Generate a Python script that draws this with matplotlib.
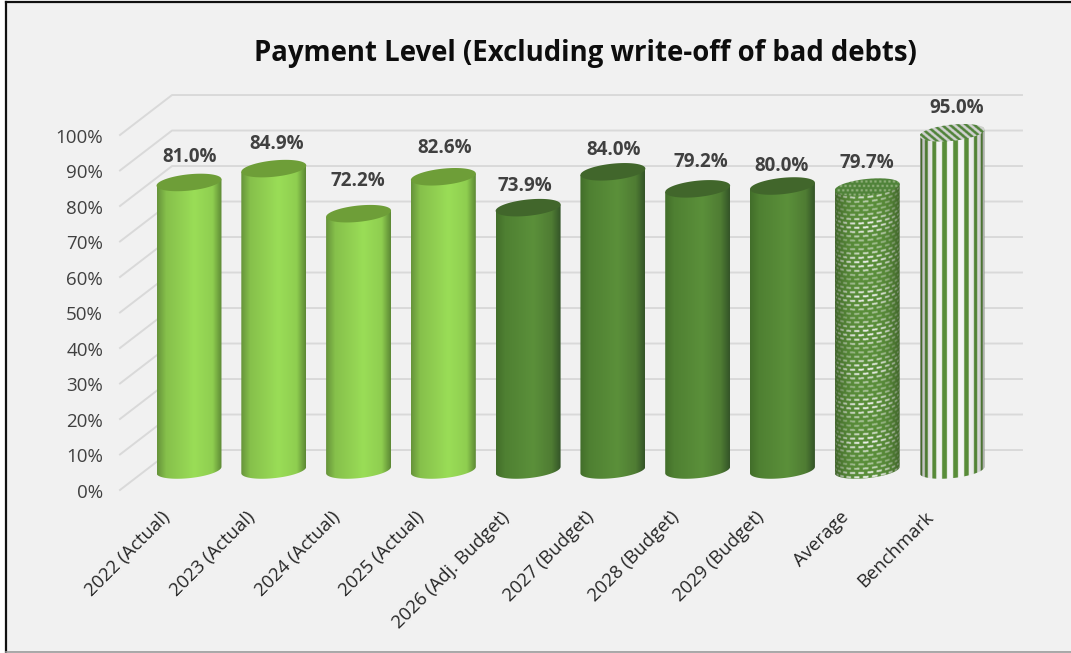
import numpy as np
import matplotlib
matplotlib.use('Agg')
import matplotlib.pyplot as plt
from matplotlib.patches import PathPatch, Rectangle
from matplotlib.path import Path

categories = ['2022 (Actual)', '2023 (Actual)', '2024 (Actual)', '2025 (Actual)', '2026 (Adj. Budget)',
              '2027 (Budget)', '2028 (Budget)', '2029 (Budget)', 'Average', 'Benchmark']
values = [81.0, 84.9, 72.2, 82.6, 73.9, 84.0, 79.2, 80.0, 79.7, 95.0]
styles = ['light', 'light', 'light', 'light', 'dark', 'dark', 'dark', 'dark', 'mesh', 'stripes']
y_ticks = [0, 10, 20, 30, 40, 50, 60, 70, 80, 90, 100]

# hand placed data labels in the original, pixels
label_dx = [-1.5, 0.7, -3, -1, -5.6, -1.4, 0.8, -3, -2.7, 2.5]
label_dy = [1, 0, 8, 4, -3, -3.5, 1.5, -5, -1, -0.5]

BG = '#F1F1F1'
GRID = '#D9D9D9'
PX_X = 84.78   # pixels per category
PX_Y = 3.55    # pixels per percent
HALF = 0.383   # half bar width, categories
B = 2.3        # ellipse half height, percent
S = 0.9        # ellipse tilt, percent
DEPTH = 5.63   # wall depth, percent

RAMPS = {
    'light': ['#66933A', '#86C04B', '#9ADD57', '#8FCE50', '#5C8834'],
    'dark': ['#426E2A', '#4F8032', '#5B903A', '#4F7C33', '#345428'],
}
TOPS = {'light': '#6E9E38', 'dark': '#41662B'}


def hex_rgb(c):
    return np.array(matplotlib.colors.to_rgb(c))


def ramp(xn, colors):
    stops = [-1, -0.72, 0.15, 0.72, 1]
    rgb = np.array([hex_rgb(c) for c in colors])
    return np.stack([np.interp(xn, stops, rgb[:, i]) for i in range(3)], axis=-1)


def ellipse_xy(cx, level, t):
    return cx + HALF * np.cos(t), level + B * np.sin(t) + S * np.cos(t)


def body_path(cx, top):
    t = np.linspace(np.pi, 2 * np.pi, 80)
    x, y = ellipse_xy(cx, 0, t)
    x = np.r_[cx - HALF, x, cx + HALF, cx - HALF]
    y = np.r_[top - S, y, top + S, top - S]
    return Path(np.column_stack([x, y]))


def top_path(cx, top):
    t = np.linspace(0, 2 * np.pi, 120)
    x, y = ellipse_xy(cx, top, t)
    return Path(np.column_stack([x, y]))


def body_image(style, top):
    # texture grid, roughly 3 samples per pixel
    w = 200
    h = int((top + 8) * PX_Y * 3)
    xn = np.linspace(-1, 1, w)
    yy = np.linspace(top + 4, -4, h)
    X, Y = np.meshgrid(xn, yy)
    if style in RAMPS:
        return np.repeat(ramp(xn, RAMPS[style])[None, :, :], 2, axis=0)
    u = np.arcsin(np.clip(X, -1, 1)) / (np.pi / 2)
    green = hex_rgb('#5A8E3A')
    white = hex_rgb('#F6F6F6')
    if style == 'stripes':
        shade = 1 - 0.32 * np.abs(X) ** 4
        mask = (((u + 1) * 4.5) % 1) < 0.56
        amount = mask * 1.0
    else:
        shade = 1 - 0.30 * np.abs(X) ** 3
        v = (Y + B * np.sqrt(1 - X ** 2) - S * X) * PX_Y
        row = np.floor(v / 4.3)
        band = 0.5 + 0.5 * np.cos(2 * np.pi * v / 36)
        mask = ((((u + 1) * 5.5 + 0.5 * row) % 1) < 0.62) & ((v / 4.3) % 1 < 0.46)
        amount = mask * (0.45 + 0.5 * band) * (1 - 0.5 * np.abs(X) ** 2)
    img = green + (white - green) * amount[..., None]
    return img * shade[..., None]


def top_image(style):
    xn = np.linspace(-1, 1, 200)
    yn = np.linspace(1, -1, 70)
    X, Y = np.meshgrid(xn, yn)
    if style == 'stripes':
        mask = ((X * 4 + Y * 1.6) % 1) < 0.5
        light = hex_rgb('#D2D2D2')
    else:
        mask = (np.floor(X * 14 + np.floor(Y * 5) * 0.5) % 2 == 0) & (np.floor(Y * 5) % 2 == 0)
        light = hex_rgb('#8FAE7A')
    return np.where(mask[..., None], light, hex_rgb('#50833A'))


fig = plt.figure(figsize=(10.71, 6.53), dpi=100, facecolor='white')
ax = fig.add_axes([0, 0, 1, 1])
ax.set_xlim(-189 / PX_X, (1071 - 189) / PX_X)
ax.set_ylim(470 / PX_Y - 653 / PX_Y, 470 / PX_Y)
ax.axis('off')

# panel and its border
ax.add_patch(Rectangle((0, 0), 1, 1, transform=ax.transAxes, fc='white', ec='none', zorder=0))
ax.add_patch(Rectangle((6 / 1071, 1.5 / 653), 1.1, 649 / 653, transform=ax.transAxes, fc=BG, ec='none', zorder=0.1))
ax.plot([6 / 1071, 6 / 1071], [1.5 / 653, 651 / 653], transform=ax.transAxes, color='#111111', lw=1.6, zorder=0.2)
ax.plot([6 / 1071, 1], [651 / 653, 651 / 653], transform=ax.transAxes, color='#111111', lw=1.6, zorder=0.2)
ax.plot([6 / 1071, 1], [1.5 / 653, 1.5 / 653], transform=ax.transAxes, color='#9A9A9A', lw=1.2, zorder=0.2)

# gridlines on the side and back walls
x_front = -0.814
x_back = -0.20
x_right = 9.825
for tick in y_ticks:
    ax.plot([x_front, x_back, x_right], [tick - DEPTH, tick + DEPTH, tick + DEPTH], color=GRID, lw=1.4, zorder=1)
    ax.text(x_front - 0.2, tick - DEPTH - 0.8, f'{tick}%', ha='right', va='center', fontsize=13.5,
            family='Open Sans', color='#404040', zorder=5)

for i, (name, val, style) in enumerate(zip(categories, values, styles)):
    extent = (i - HALF, i + HALF, -4, val + 4)
    body = PathPatch(body_path(i, val), fc='none', ec='none', zorder=2)
    ax.add_patch(body)
    im = ax.imshow(body_image(style, val), extent=extent, aspect='auto', interpolation='bilinear', zorder=2)
    im.set_clip_path(body)

    lid_path = top_path(i, val)
    if style in TOPS:
        ax.add_patch(PathPatch(lid_path, fc=TOPS[style], ec='none', zorder=3))
    else:
        lid = PathPatch(lid_path, fc='none', ec='none', zorder=3)
        ax.add_patch(lid)
        im = ax.imshow(top_image(style), extent=(i - HALF, i + HALF, val - 3, val + 3), aspect='auto',
                       interpolation='bilinear', zorder=3)
        im.set_clip_path(lid)

    ax.text(i + 0.03 + label_dx[i] / PX_X, val + 7.0 + label_dy[i] / PX_Y, f'{val:.1f}%', ha='center', va='center',
            fontsize=13.5, fontweight='bold', family='Open Sans', color='#404040', zorder=6)
    ax.annotate(name, (i, 0), xytext=(-28, -38), textcoords='offset pixels', rotation=45, ha='right', va='top',
                rotation_mode='anchor', fontsize=13.3, family='Open Sans', color='#262626', zorder=5)

ax.set_xlim(-189 / PX_X, (1071 - 189) / PX_X)
ax.set_ylim(470 / PX_Y - 653 / PX_Y, 470 / PX_Y)

fig.text(585.5 / 1071, 1 - 53 / 653, 'Payment Level (Excluding write-off of bad debts)', ha='center', va='center',
         fontsize=19.85, fontweight='bold', family='Open Sans', color='#0D0D0D')

fig.savefig('out.png', dpi=100)
